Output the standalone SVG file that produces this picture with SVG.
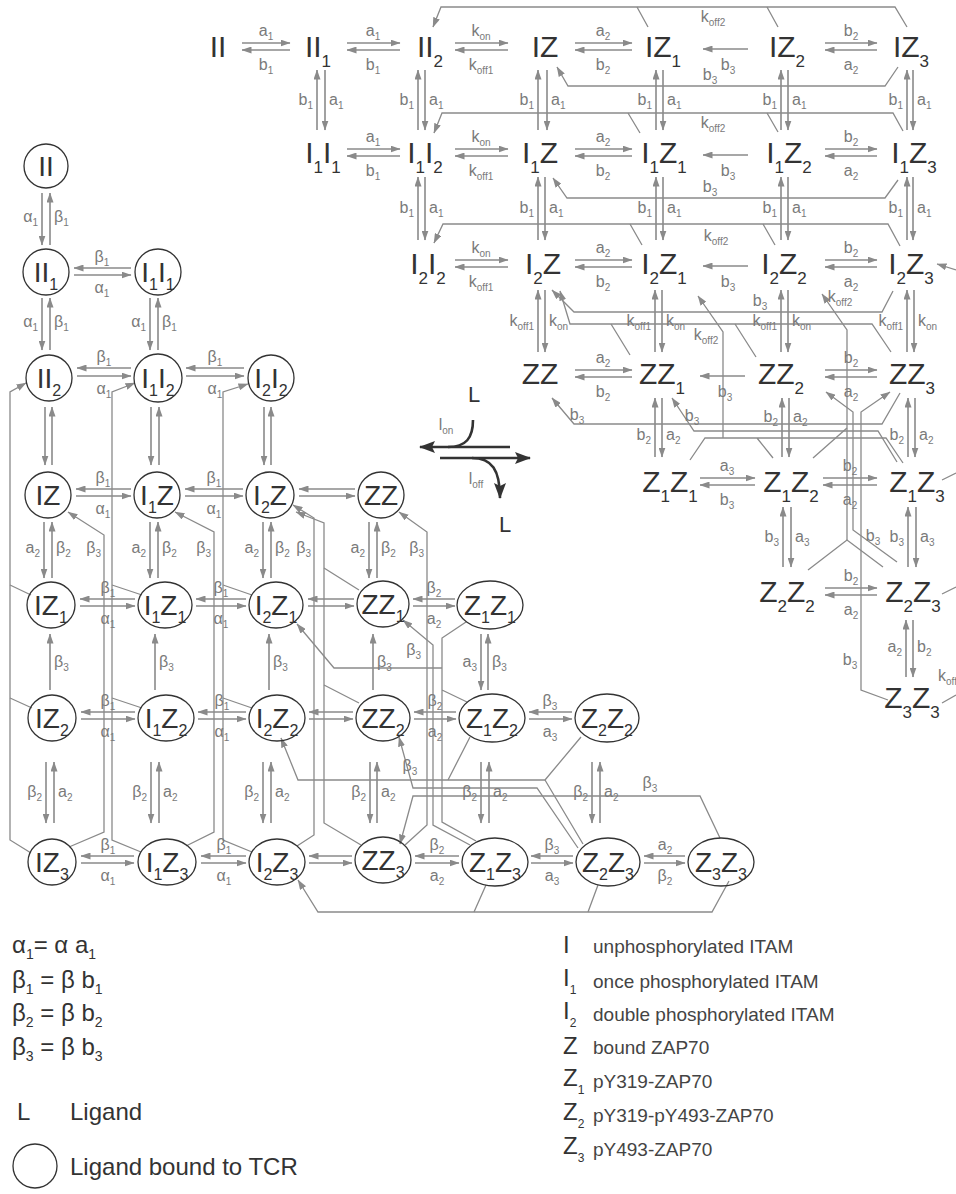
<svg xmlns="http://www.w3.org/2000/svg" width="956" height="1194" viewBox="0 0 956 1194">
<defs>
<style>
text{font-family:"Liberation Sans",Arial,sans-serif}
.n{font-size:30px;fill:#333;text-anchor:middle}
.m{font-size:28px}
.s{font-size:17px}
.m .s{font-size:16px}
.r{font-size:16px;fill:#7a7a7a;text-anchor:middle}
.le{text-anchor:end}
.ri{text-anchor:start}
.t{font-size:10px}
.e{stroke:#8a8a8a;stroke-width:1.6;fill:none;marker-end:url(#ah)}
.w{stroke:#8a8a8a;stroke-width:1.3;fill:none}
.wa{marker-end:url(#ah)}
.c{fill:none;stroke:#333;stroke-width:1.3}
.d{stroke:#333;stroke-width:2.6;fill:none}
.da{marker-end:url(#big)}
.lg{font-size:24px;fill:#333}
.lt{font-size:19px;fill:#444}
.u{font-size:14px}
.v{font-size:12px}
</style>
<marker id="ah" viewBox="0 0 10 7" refX="9.5" refY="3.5" markerWidth="10" markerHeight="7" markerUnits="userSpaceOnUse" orient="auto"><path d="M0,0 L10,3.5 L0,7 z" fill="#8a8a8a"/></marker>
<marker id="big" viewBox="0 0 16 12" refX="15" refY="6" markerWidth="16" markerHeight="12" markerUnits="userSpaceOnUse" orient="auto"><path d="M0,0 L16,6 L0,12 L3,6 z" fill="#333"/></marker>
</defs>

<!-- ===== connectors ===== -->
<g id="connectors">
<!-- upper scheme: horizontal reaction pairs -->
<line class="e" x1="242" y1="43" x2="290" y2="43"/><line class="e" x1="290" y1="50" x2="242" y2="50"/>
<line class="e" x1="347" y1="43" x2="400" y2="43"/><line class="e" x1="400" y1="50" x2="347" y2="50"/>
<line class="e" x1="455" y1="43" x2="508" y2="43"/><line class="e" x1="508" y1="50" x2="455" y2="50"/>
<line class="e" x1="575" y1="43" x2="632" y2="43"/><line class="e" x1="632" y1="50" x2="575" y2="50"/>
<line class="e" x1="748" y1="49" x2="703" y2="49"/>
<line class="e" x1="825" y1="43" x2="877" y2="43"/><line class="e" x1="877" y1="50" x2="825" y2="50"/>

<line class="e" x1="347" y1="149" x2="400" y2="149"/><line class="e" x1="400" y1="156" x2="347" y2="156"/>
<line class="e" x1="455" y1="149" x2="508" y2="149"/><line class="e" x1="508" y1="156" x2="455" y2="156"/>
<line class="e" x1="575" y1="149" x2="632" y2="149"/><line class="e" x1="632" y1="156" x2="575" y2="156"/>
<line class="e" x1="748" y1="155" x2="703" y2="155"/>
<line class="e" x1="825" y1="149" x2="877" y2="149"/><line class="e" x1="877" y1="156" x2="825" y2="156"/>

<line class="e" x1="455" y1="260" x2="508" y2="260"/><line class="e" x1="508" y1="267" x2="455" y2="267"/>
<line class="e" x1="575" y1="260" x2="632" y2="260"/><line class="e" x1="632" y1="267" x2="575" y2="267"/>
<line class="e" x1="748" y1="266" x2="703" y2="266"/>
<line class="e" x1="825" y1="260" x2="877" y2="260"/><line class="e" x1="877" y1="267" x2="825" y2="267"/>

<line class="e" x1="575" y1="370" x2="632" y2="370"/><line class="e" x1="632" y1="377" x2="575" y2="377"/>
<line class="e" x1="745" y1="376" x2="700" y2="376"/>
<line class="e" x1="825" y1="370" x2="877" y2="370"/><line class="e" x1="877" y1="377" x2="825" y2="377"/>

<line class="e" x1="700" y1="478" x2="755" y2="478"/><line class="e" x1="755" y1="485" x2="700" y2="485"/>
<line class="e" x1="823" y1="478" x2="877" y2="478"/><line class="e" x1="877" y1="485" x2="823" y2="485"/>

<line class="e" x1="825" y1="588" x2="877" y2="588"/><line class="e" x1="877" y1="595" x2="825" y2="595"/>

<!-- upper scheme: vertical reaction pairs -->
<line class="e" x1="317" y1="130" x2="317" y2="70"/><line class="e" x1="325" y1="70" x2="325" y2="130"/>
<line class="e" x1="418" y1="130" x2="418" y2="70"/><line class="e" x1="425" y1="70" x2="425" y2="130"/>
<line class="e" x1="538" y1="130" x2="538" y2="70"/><line class="e" x1="547" y1="70" x2="547" y2="130"/>
<line class="e" x1="656" y1="130" x2="656" y2="70"/><line class="e" x1="663" y1="70" x2="663" y2="130"/>
<line class="e" x1="781" y1="130" x2="781" y2="70"/><line class="e" x1="788" y1="70" x2="788" y2="130"/>
<line class="e" x1="907" y1="130" x2="907" y2="70"/><line class="e" x1="913" y1="70" x2="913" y2="130"/>

<line class="e" x1="418" y1="240" x2="418" y2="177"/><line class="e" x1="425" y1="177" x2="425" y2="240"/>
<line class="e" x1="538" y1="240" x2="538" y2="177"/><line class="e" x1="545" y1="177" x2="545" y2="240"/>
<line class="e" x1="656" y1="240" x2="656" y2="177"/><line class="e" x1="663" y1="177" x2="663" y2="240"/>
<line class="e" x1="781" y1="240" x2="781" y2="177"/><line class="e" x1="788" y1="177" x2="788" y2="240"/>
<line class="e" x1="907" y1="240" x2="907" y2="177"/><line class="e" x1="913" y1="177" x2="913" y2="240"/>

<line class="e" x1="538" y1="352" x2="538" y2="290"/><line class="e" x1="545" y1="290" x2="545" y2="352"/>
<line class="e" x1="655" y1="352" x2="655" y2="290"/><line class="e" x1="662" y1="290" x2="662" y2="352"/>
<line class="e" x1="781" y1="352" x2="781" y2="290"/><line class="e" x1="788" y1="290" x2="788" y2="352"/>
<line class="e" x1="907" y1="352" x2="907" y2="290"/><line class="e" x1="914" y1="290" x2="914" y2="352"/>

<line class="e" x1="655" y1="457" x2="655" y2="398"/><line class="e" x1="662" y1="398" x2="662" y2="457"/>
<line class="e" x1="782" y1="457" x2="782" y2="398"/><line class="e" x1="789" y1="398" x2="789" y2="457"/>
<line class="e" x1="908" y1="457" x2="908" y2="398"/><line class="e" x1="915" y1="398" x2="915" y2="457"/>

<line class="e" x1="783" y1="567" x2="783" y2="507"/><line class="e" x1="791" y1="507" x2="791" y2="567"/>
<line class="e" x1="908" y1="567" x2="908" y2="507"/><line class="e" x1="916" y1="507" x2="916" y2="567"/>

<line class="e" x1="906" y1="677" x2="906" y2="620"/><line class="e" x1="913" y1="620" x2="913" y2="677"/>

<!-- upper scheme: long routed transitions -->
<path class="w wa" d="M907,27 L895,7 L441,7 L433,27"/>
<path class="w" d="M637,7 L648,27 M767,7 L778,27"/>
<path class="w wa" d="M898,67 L885,86 L568,86 L557,67"/>
<path class="w wa" d="M903,131 L893,113 L442,113 L434,133"/>
<path class="w" d="M628,113 L640,133 M767,113 L778,132"/>
<path class="w wa" d="M898,180 L885,198 L567,198 L553,178"/>
<path class="w wa" d="M900,246 L888,224 L443,224 L434,243"/>
<path class="w" d="M630,224 L642,245 M763,224 L775,245"/>
<path class="w wa" d="M893,291 L882,312 L574,312 L552,290"/>
<path class="w wa" d="M891,352 L872,324 L570,324 L560,291"/>
<path class="w" d="M611,324 L630,355 M735,324 L756,357"/>
<path class="w wa" d="M723,438 L723,332 L698,296"/>
<path class="w" d="M690,460 L705,438 L886,438 L903,463 M757,438 L773,458"/>
<path class="w wa" d="M900,393 L882,424 L574,424 L552,398"/>
<path class="w wa" d="M897,462 L878,431 L694,431 L672,398"/>
<path class="w wa" d="M847,540 L847,330 L822,294"/>
<path class="w" d="M808,570 L847,540 L883,567 M813,458 L847,428"/>
<path class="w wa" d="M897,562 L853,530 L853,412 L826,392"/>
<path class="w wa" d="M888,700 L861,690 L861,412 L890,392"/>
<path class="w wa" d="M956,270 L937,264"/>
<path class="w" d="M942,480 L956,473 M942,594 L956,587 M942,703 L956,695"/>

<!-- lower scheme: horizontal pairs -->
<line class="e" x1="131" y1="268" x2="74" y2="268"/><line class="e" x1="74" y1="275" x2="131" y2="275"/>
<line class="e" x1="131" y1="368" x2="77" y2="368"/><line class="e" x1="77" y1="376" x2="131" y2="376"/>
<line class="e" x1="244" y1="368" x2="186" y2="368"/><line class="e" x1="186" y1="376" x2="244" y2="376"/>

<line class="e" x1="131" y1="489" x2="76" y2="489"/><line class="e" x1="76" y1="496" x2="131" y2="496"/>
<line class="e" x1="243" y1="489" x2="185" y2="489"/><line class="e" x1="185" y1="496" x2="243" y2="496"/>
<line class="e" x1="355" y1="489" x2="299" y2="489"/><line class="e" x1="299" y1="496" x2="355" y2="496"/>

<line class="e" x1="135" y1="599" x2="80" y2="599"/><line class="e" x1="80" y1="606" x2="135" y2="606"/>
<line class="e" x1="246" y1="599" x2="196" y2="599"/><line class="e" x1="196" y1="606" x2="246" y2="606"/>
<line class="e" x1="354" y1="599" x2="308" y2="599"/><line class="e" x1="308" y1="606" x2="354" y2="606"/>
<line class="e" x1="455" y1="599" x2="413" y2="599"/><line class="e" x1="413" y1="606" x2="455" y2="606"/>

<line class="e" x1="135" y1="712" x2="81" y2="712"/><line class="e" x1="81" y1="719" x2="135" y2="719"/>
<line class="e" x1="246" y1="712" x2="198" y2="712"/><line class="e" x1="198" y1="719" x2="246" y2="719"/>
<line class="e" x1="353" y1="712" x2="309" y2="712"/><line class="e" x1="309" y1="719" x2="353" y2="719"/>
<line class="e" x1="456" y1="712" x2="414" y2="712"/><line class="e" x1="414" y1="719" x2="456" y2="719"/>
<line class="e" x1="572" y1="712" x2="529" y2="712"/><line class="e" x1="529" y1="719" x2="572" y2="719"/>

<line class="e" x1="134" y1="856" x2="81" y2="856"/><line class="e" x1="81" y1="863" x2="134" y2="863"/>
<line class="e" x1="246" y1="856" x2="201" y2="856"/><line class="e" x1="201" y1="863" x2="246" y2="863"/>
<line class="e" x1="352" y1="856" x2="309" y2="856"/><line class="e" x1="309" y1="863" x2="352" y2="863"/>
<line class="e" x1="459" y1="856" x2="415" y2="856"/><line class="e" x1="415" y1="863" x2="459" y2="863"/>
<line class="e" x1="573" y1="856" x2="531" y2="856"/><line class="e" x1="531" y1="863" x2="573" y2="863"/>
<line class="e" x1="685" y1="856" x2="644" y2="856"/><line class="e" x1="644" y1="863" x2="685" y2="863"/>

<!-- lower scheme: vertical pairs -->
<line class="e" x1="42" y1="193" x2="42" y2="245"/><line class="e" x1="50" y1="245" x2="50" y2="193"/>
<line class="e" x1="42" y1="298" x2="42" y2="350"/><line class="e" x1="50" y1="350" x2="50" y2="298"/>
<line class="e" x1="150" y1="298" x2="150" y2="350"/><line class="e" x1="158" y1="350" x2="158" y2="298"/>
<line class="e" x1="45" y1="407" x2="45" y2="465"/><line class="e" x1="52" y1="465" x2="52" y2="407"/>
<line class="e" x1="151" y1="407" x2="151" y2="465"/><line class="e" x1="159" y1="465" x2="159" y2="407"/>
<line class="e" x1="264" y1="407" x2="264" y2="465"/><line class="e" x1="271" y1="465" x2="271" y2="407"/>

<line class="e" x1="44" y1="522" x2="44" y2="578"/><line class="e" x1="52" y1="578" x2="52" y2="522"/>
<line class="e" x1="150" y1="522" x2="150" y2="578"/><line class="e" x1="158" y1="578" x2="158" y2="522"/>
<line class="e" x1="263" y1="522" x2="263" y2="578"/><line class="e" x1="271" y1="578" x2="271" y2="522"/>
<line class="e" x1="369" y1="522" x2="369" y2="578"/><line class="e" x1="377" y1="578" x2="377" y2="522"/>

<line class="e" x1="50" y1="690" x2="50" y2="634"/>
<line class="e" x1="155" y1="690" x2="155" y2="634"/>
<line class="e" x1="269" y1="690" x2="269" y2="634"/>
<line class="e" x1="373" y1="690" x2="373" y2="634"/>
<line class="e" x1="481" y1="634" x2="481" y2="690"/><line class="e" x1="488" y1="690" x2="488" y2="634"/>

<line class="e" x1="46" y1="762" x2="46" y2="823"/><line class="e" x1="54" y1="823" x2="54" y2="762"/>
<line class="e" x1="151" y1="762" x2="151" y2="823"/><line class="e" x1="159" y1="823" x2="159" y2="762"/>
<line class="e" x1="263" y1="762" x2="263" y2="823"/><line class="e" x1="271" y1="823" x2="271" y2="762"/>
<line class="e" x1="370" y1="762" x2="370" y2="823"/><line class="e" x1="377" y1="823" x2="377" y2="762"/>
<line class="e" x1="481" y1="762" x2="481" y2="823"/><line class="e" x1="489" y1="823" x2="489" y2="762"/>
<line class="e" x1="592" y1="762" x2="592" y2="823"/><line class="e" x1="600" y1="823" x2="600" y2="762"/>

<!-- lower scheme: long routed transitions -->
<path class="w wa" d="M31,853 L10,840 L10,392 L26,383"/>
<path class="w" d="M10,585 L31,595 M10,698 L32,708"/>
<path class="w wa" d="M141,852 L112,840 L112,392 L135,383"/>
<path class="w" d="M112,585 L142,595 M112,698 L142,708"/>
<path class="w wa" d="M252,852 L223,840 L223,392 L248,384"/>
<path class="w" d="M223,585 L252,595 M223,698 L252,708"/>
<path class="w wa" d="M69,847 L104,832 L104,535 L68,512"/>
<path class="w wa" d="M186,846 L214,832 L214,532 L175,512"/>
<path class="w wa" d="M297,846 L314,835 L314,518 L293,505"/>
<path class="w wa" d="M361,845 L324,823 L324,523 L296,512"/>
<path class="w" d="M324,568 L359,590 M324,685 L359,703"/>
<path class="w wa" d="M405,845 L427,825 L427,532 L399,512"/>
<path class="w wa" d="M470,845 L433,825 L433,645 L403,620"/>
<path class="w" d="M466,622 L442,638 L442,822 L476,841 M442,690 L467,702"/>
<path class="w wa" d="M442,668 L334,668 L297,624"/>
<path class="w wa" d="M581,737 L545,780 L298,780 L281,738"/>
<path class="w" d="M448,780 L470,737 M545,780 L583,844"/>
<path class="w wa" d="M578,848 L537,788 L413,788 L399,737"/>
<path class="w wa" d="M720,838 L700,796 L413,796 L400,844"/>
<path class="w wa" d="M729,881 L712,912 L318,912 L298,880"/>
<path class="w" d="M474,912 L486,885 M588,912 L598,885"/>

<!-- ligand binding / unbinding -->
<path class="d da" d="M510,447 L420,447"/>
<path class="d" d="M473,420 C473,438 466,447 448,447"/>
<path class="d da" d="M440,458 L530,458"/>
<path class="d da" d="M472,458 C492,458 500,470 500,498"/>
</g>

<!-- ===== rate constants ===== -->
<g id="rates">
<!-- upper horizontal -->
<text class="r" x="266" y="36">a<tspan class="t" dy="4">1</tspan></text><text class="r" x="266" y="70">b<tspan class="t" dy="4">1</tspan></text>
<text class="r" x="373" y="36">a<tspan class="t" dy="4">1</tspan></text><text class="r" x="373" y="70">b<tspan class="t" dy="4">1</tspan></text>
<text class="r" x="481" y="36">k<tspan class="t" dy="4">on</tspan></text><text class="r" x="481" y="70">k<tspan class="t" dy="4">off1</tspan></text>
<text class="r" x="603" y="36">a<tspan class="t" dy="4">2</tspan></text><text class="r" x="603" y="70">b<tspan class="t" dy="4">2</tspan></text>
<text class="r" x="728" y="70">b<tspan class="t" dy="4">3</tspan></text>
<text class="r" x="851" y="36">b<tspan class="t" dy="4">2</tspan></text><text class="r" x="851" y="70">a<tspan class="t" dy="4">2</tspan></text>

<text class="r" x="373" y="142">a<tspan class="t" dy="4">1</tspan></text><text class="r" x="373" y="176">b<tspan class="t" dy="4">1</tspan></text>
<text class="r" x="481" y="142">k<tspan class="t" dy="4">on</tspan></text><text class="r" x="481" y="176">k<tspan class="t" dy="4">off1</tspan></text>
<text class="r" x="603" y="142">a<tspan class="t" dy="4">2</tspan></text><text class="r" x="603" y="176">b<tspan class="t" dy="4">2</tspan></text>
<text class="r" x="728" y="176">b<tspan class="t" dy="4">3</tspan></text>
<text class="r" x="851" y="142">b<tspan class="t" dy="4">2</tspan></text><text class="r" x="851" y="176">a<tspan class="t" dy="4">2</tspan></text>

<text class="r" x="481" y="253">k<tspan class="t" dy="4">on</tspan></text><text class="r" x="481" y="287">k<tspan class="t" dy="4">off1</tspan></text>
<text class="r" x="603" y="253">a<tspan class="t" dy="4">2</tspan></text><text class="r" x="603" y="287">b<tspan class="t" dy="4">2</tspan></text>
<text class="r" x="728" y="287">b<tspan class="t" dy="4">3</tspan></text>
<text class="r" x="851" y="253">b<tspan class="t" dy="4">2</tspan></text><text class="r" x="851" y="287">a<tspan class="t" dy="4">2</tspan></text>

<text class="r" x="603" y="363">a<tspan class="t" dy="4">2</tspan></text><text class="r" x="603" y="397">b<tspan class="t" dy="4">2</tspan></text>
<text class="r" x="725" y="397">b<tspan class="t" dy="4">3</tspan></text>
<text class="r" x="851" y="363">b<tspan class="t" dy="4">2</tspan></text><text class="r" x="851" y="397">a<tspan class="t" dy="4">2</tspan></text>

<text class="r" x="727" y="471">a<tspan class="t" dy="4">3</tspan></text><text class="r" x="727" y="505">b<tspan class="t" dy="4">3</tspan></text>
<text class="r" x="850" y="471">b<tspan class="t" dy="4">2</tspan></text><text class="r" x="850" y="505">a<tspan class="t" dy="4">2</tspan></text>
<text class="r" x="851" y="581">b<tspan class="t" dy="4">2</tspan></text><text class="r" x="851" y="615">a<tspan class="t" dy="4">2</tspan></text>

<!-- upper vertical -->
<text class="r le" x="313" y="105">b<tspan class="t" dy="4">1</tspan></text><text class="r ri" x="329" y="105">a<tspan class="t" dy="4">1</tspan></text>
<text class="r le" x="414" y="105">b<tspan class="t" dy="4">1</tspan></text><text class="r ri" x="429" y="105">a<tspan class="t" dy="4">1</tspan></text>
<text class="r le" x="534" y="105">b<tspan class="t" dy="4">1</tspan></text><text class="r ri" x="551" y="105">a<tspan class="t" dy="4">1</tspan></text>
<text class="r le" x="652" y="105">b<tspan class="t" dy="4">1</tspan></text><text class="r ri" x="667" y="105">a<tspan class="t" dy="4">1</tspan></text>
<text class="r le" x="777" y="105">b<tspan class="t" dy="4">1</tspan></text><text class="r ri" x="792" y="105">a<tspan class="t" dy="4">1</tspan></text>
<text class="r le" x="903" y="105">b<tspan class="t" dy="4">1</tspan></text><text class="r ri" x="917" y="105">a<tspan class="t" dy="4">1</tspan></text>

<text class="r le" x="414" y="213">b<tspan class="t" dy="4">1</tspan></text><text class="r ri" x="429" y="213">a<tspan class="t" dy="4">1</tspan></text>
<text class="r le" x="534" y="213">b<tspan class="t" dy="4">1</tspan></text><text class="r ri" x="549" y="213">a<tspan class="t" dy="4">1</tspan></text>
<text class="r le" x="652" y="213">b<tspan class="t" dy="4">1</tspan></text><text class="r ri" x="667" y="213">a<tspan class="t" dy="4">1</tspan></text>
<text class="r le" x="777" y="213">b<tspan class="t" dy="4">1</tspan></text><text class="r ri" x="792" y="213">a<tspan class="t" dy="4">1</tspan></text>
<text class="r le" x="903" y="213">b<tspan class="t" dy="4">1</tspan></text><text class="r ri" x="917" y="213">a<tspan class="t" dy="4">1</tspan></text>

<text class="r le" x="534" y="326">k<tspan class="t" dy="4">off1</tspan></text><text class="r ri" x="549" y="326">k<tspan class="t" dy="4">on</tspan></text>
<text class="r le" x="651" y="326">k<tspan class="t" dy="4">off1</tspan></text><text class="r ri" x="666" y="326">k<tspan class="t" dy="4">on</tspan></text>
<text class="r le" x="777" y="326">k<tspan class="t" dy="4">off1</tspan></text><text class="r ri" x="792" y="326">k<tspan class="t" dy="4">on</tspan></text>
<text class="r le" x="903" y="326">k<tspan class="t" dy="4">off1</tspan></text><text class="r ri" x="918" y="326">k<tspan class="t" dy="4">on</tspan></text>

<text class="r le" x="651" y="440">b<tspan class="t" dy="4">2</tspan></text><text class="r ri" x="666" y="440">a<tspan class="t" dy="4">2</tspan></text>
<text class="r le" x="778" y="422">b<tspan class="t" dy="4">2</tspan></text><text class="r ri" x="793" y="422">a<tspan class="t" dy="4">2</tspan></text>
<text class="r le" x="904" y="440">b<tspan class="t" dy="4">2</tspan></text><text class="r ri" x="919" y="440">a<tspan class="t" dy="4">2</tspan></text>

<text class="r le" x="779" y="542">b<tspan class="t" dy="4">3</tspan></text><text class="r ri" x="795" y="542">a<tspan class="t" dy="4">3</tspan></text>
<text class="r le" x="904" y="542">b<tspan class="t" dy="4">3</tspan></text><text class="r ri" x="920" y="542">a<tspan class="t" dy="4">3</tspan></text>
<text class="r le" x="902" y="652">a<tspan class="t" dy="4">2</tspan></text><text class="r ri" x="917" y="652">b<tspan class="t" dy="4">2</tspan></text>

<!-- upper routed -->
<text class="r" x="713" y="22">k<tspan class="t" dy="4">off2</tspan></text>
<text class="r" x="710" y="80">b<tspan class="t" dy="4">3</tspan></text>
<text class="r" x="713" y="128">k<tspan class="t" dy="4">off2</tspan></text>
<text class="r" x="710" y="192">b<tspan class="t" dy="4">3</tspan></text>
<text class="r" x="716" y="241">k<tspan class="t" dy="4">off2</tspan></text>
<text class="r" x="760" y="306">b<tspan class="t" dy="4">3</tspan></text>
<text class="r" x="840" y="302">k<tspan class="t" dy="4">off2</tspan></text>
<text class="r" x="706" y="340">k<tspan class="t" dy="4">off2</tspan></text>
<text class="r" x="577" y="420">b<tspan class="t" dy="4">3</tspan></text>
<text class="r" x="692" y="421">b<tspan class="t" dy="4">3</tspan></text>
<text class="r" x="873" y="541">b<tspan class="t" dy="4">3</tspan></text>
<text class="r" x="850" y="665">b<tspan class="t" dy="4">3</tspan></text>
<text class="r ri" x="938" y="681">k<tspan class="t" dy="4">off</tspan></text>

<!-- lower horizontal -->
<text class="r" x="102" y="262">β<tspan class="t" dy="4">1</tspan></text><text class="r" x="102" y="293">α<tspan class="t" dy="4">1</tspan></text>
<text class="r" x="104" y="362">β<tspan class="t" dy="4">1</tspan></text><text class="r" x="104" y="394">α<tspan class="t" dy="4">1</tspan></text>
<text class="r" x="215" y="362">β<tspan class="t" dy="4">1</tspan></text><text class="r" x="215" y="394">α<tspan class="t" dy="4">1</tspan></text>
<text class="r" x="103" y="483">β<tspan class="t" dy="4">1</tspan></text><text class="r" x="103" y="514">α<tspan class="t" dy="4">1</tspan></text>
<text class="r" x="214" y="483">β<tspan class="t" dy="4">1</tspan></text><text class="r" x="214" y="514">α<tspan class="t" dy="4">1</tspan></text>
<text class="r" x="108" y="593">β<tspan class="t" dy="4">1</tspan></text><text class="r" x="108" y="624">α<tspan class="t" dy="4">1</tspan></text>
<text class="r" x="221" y="593">β<tspan class="t" dy="4">1</tspan></text><text class="r" x="221" y="624">α<tspan class="t" dy="4">1</tspan></text>
<text class="r" x="434" y="593">β<tspan class="t" dy="4">2</tspan></text><text class="r" x="434" y="624">a<tspan class="t" dy="4">2</tspan></text>
<text class="r" x="108" y="706">β<tspan class="t" dy="4">1</tspan></text><text class="r" x="108" y="737">α<tspan class="t" dy="4">1</tspan></text>
<text class="r" x="222" y="706">β<tspan class="t" dy="4">1</tspan></text><text class="r" x="222" y="737">α<tspan class="t" dy="4">1</tspan></text>
<text class="r" x="435" y="706">β<tspan class="t" dy="4">2</tspan></text><text class="r" x="435" y="737">a<tspan class="t" dy="4">2</tspan></text>
<text class="r" x="550" y="706">β<tspan class="t" dy="4">3</tspan></text><text class="r" x="550" y="737">a<tspan class="t" dy="4">3</tspan></text>
<text class="r" x="108" y="850">β<tspan class="t" dy="4">1</tspan></text><text class="r" x="108" y="881">α<tspan class="t" dy="4">1</tspan></text>
<text class="r" x="224" y="850">β<tspan class="t" dy="4">1</tspan></text><text class="r" x="224" y="881">α<tspan class="t" dy="4">1</tspan></text>
<text class="r" x="437" y="850">β<tspan class="t" dy="4">2</tspan></text><text class="r" x="437" y="881">a<tspan class="t" dy="4">2</tspan></text>
<text class="r" x="552" y="850">β<tspan class="t" dy="4">3</tspan></text><text class="r" x="552" y="881">a<tspan class="t" dy="4">3</tspan></text>
<text class="r" x="665" y="850">a<tspan class="t" dy="4">2</tspan></text><text class="r" x="665" y="881">β<tspan class="t" dy="4">2</tspan></text>

<!-- lower vertical -->
<text class="r le" x="38" y="222">α<tspan class="t" dy="4">1</tspan></text><text class="r ri" x="54" y="222">β<tspan class="t" dy="4">1</tspan></text>
<text class="r le" x="38" y="327">α<tspan class="t" dy="4">1</tspan></text><text class="r ri" x="54" y="327">β<tspan class="t" dy="4">1</tspan></text>
<text class="r le" x="146" y="327">α<tspan class="t" dy="4">1</tspan></text><text class="r ri" x="162" y="327">β<tspan class="t" dy="4">1</tspan></text>
<text class="r le" x="40" y="553">a<tspan class="t" dy="4">2</tspan></text><text class="r ri" x="56" y="553">β<tspan class="t" dy="4">2</tspan></text>
<text class="r le" x="146" y="553">a<tspan class="t" dy="4">2</tspan></text><text class="r ri" x="162" y="553">β<tspan class="t" dy="4">2</tspan></text>
<text class="r le" x="259" y="553">a<tspan class="t" dy="4">2</tspan></text><text class="r ri" x="275" y="553">β<tspan class="t" dy="4">2</tspan></text>
<text class="r le" x="365" y="553">a<tspan class="t" dy="4">2</tspan></text><text class="r ri" x="381" y="553">β<tspan class="t" dy="4">2</tspan></text>
<text class="r ri" x="54" y="667">β<tspan class="t" dy="4">3</tspan></text>
<text class="r ri" x="159" y="667">β<tspan class="t" dy="4">3</tspan></text>
<text class="r ri" x="273" y="667">β<tspan class="t" dy="4">3</tspan></text>
<text class="r ri" x="377" y="667">β<tspan class="t" dy="4">3</tspan></text>
<text class="r le" x="477" y="667">a<tspan class="t" dy="4">3</tspan></text><text class="r ri" x="492" y="667">β<tspan class="t" dy="4">3</tspan></text>
<text class="r le" x="42" y="797">β<tspan class="t" dy="4">2</tspan></text><text class="r ri" x="58" y="797">a<tspan class="t" dy="4">2</tspan></text>
<text class="r le" x="147" y="797">β<tspan class="t" dy="4">2</tspan></text><text class="r ri" x="163" y="797">a<tspan class="t" dy="4">2</tspan></text>
<text class="r le" x="259" y="797">β<tspan class="t" dy="4">2</tspan></text><text class="r ri" x="275" y="797">a<tspan class="t" dy="4">2</tspan></text>
<text class="r le" x="366" y="797">β<tspan class="t" dy="4">2</tspan></text><text class="r ri" x="381" y="797">a<tspan class="t" dy="4">2</tspan></text>
<text class="r le" x="477" y="797">β<tspan class="t" dy="4">2</tspan></text><text class="r ri" x="493" y="797">a<tspan class="t" dy="4">2</tspan></text>
<text class="r le" x="588" y="797">β<tspan class="t" dy="4">2</tspan></text><text class="r ri" x="604" y="797">a<tspan class="t" dy="4">2</tspan></text>

<!-- lower routed -->
<text class="r le" x="101" y="553">β<tspan class="t" dy="4">3</tspan></text>
<text class="r le" x="211" y="553">β<tspan class="t" dy="4">3</tspan></text>
<text class="r le" x="311" y="553">β<tspan class="t" dy="4">3</tspan></text>
<text class="r le" x="424" y="553">β<tspan class="t" dy="4">3</tspan></text>
<text class="r le" x="421" y="655">β<tspan class="t" dy="4">3</tspan></text>
<text class="r" x="410" y="771">β<tspan class="t" dy="4">3</tspan></text>
<text class="r" x="650" y="788">β<tspan class="t" dy="4">3</tspan></text>

<!-- ligand rates -->
<text class="r" x="446" y="430">l<tspan class="t" dy="4">on</tspan></text>
<text class="r" x="476" y="484">l<tspan class="t" dy="4">off</tspan></text>
</g>

<!-- ===== upper scheme states (free receptor) ===== -->
<g id="u-II"><text class="n" x="218" y="57">II</text></g>
<g id="u-II1"><text class="n" x="318" y="57">II<tspan class="s" dy="10">1</tspan></text></g>
<g id="u-II2"><text class="n" x="430" y="57">II<tspan class="s" dy="10">2</tspan></text></g>
<g id="u-IZ"><text class="n" x="545" y="57">IZ</text></g>
<g id="u-IZ1"><text class="n" x="663" y="57">IZ<tspan class="s" dy="10">1</tspan></text></g>
<g id="u-IZ2"><text class="n" x="787" y="57">IZ<tspan class="s" dy="10">2</tspan></text></g>
<g id="u-IZ3"><text class="n" x="911" y="57">IZ<tspan class="s" dy="10">3</tspan></text></g>

<g id="u-I1I1"><text class="n" x="323" y="163">I<tspan class="s" dy="10">1</tspan><tspan dy="-10">I</tspan><tspan class="s" dy="10">1</tspan></text></g>
<g id="u-I1I2"><text class="n" x="425" y="163">I<tspan class="s" dy="10">1</tspan><tspan dy="-10">I</tspan><tspan class="s" dy="10">2</tspan></text></g>
<g id="u-I1Z"><text class="n" x="540" y="163">I<tspan class="s" dy="10">1</tspan><tspan dy="-10">Z</tspan></text></g>
<g id="u-I1Z1"><text class="n" x="664" y="163">I<tspan class="s" dy="10">1</tspan><tspan dy="-10">Z</tspan><tspan class="s" dy="10">1</tspan></text></g>
<g id="u-I1Z2"><text class="n" x="789" y="163">I<tspan class="s" dy="10">1</tspan><tspan dy="-10">Z</tspan><tspan class="s" dy="10">2</tspan></text></g>
<g id="u-I1Z3"><text class="n" x="914" y="163">I<tspan class="s" dy="10">1</tspan><tspan dy="-10">Z</tspan><tspan class="s" dy="10">3</tspan></text></g>

<g id="u-I2I2"><text class="n" x="428" y="274">I<tspan class="s" dy="10">2</tspan><tspan dy="-10">I</tspan><tspan class="s" dy="10">2</tspan></text></g>
<g id="u-I2Z"><text class="n" x="543" y="274">I<tspan class="s" dy="10">2</tspan><tspan dy="-10">Z</tspan></text></g>
<g id="u-I2Z1"><text class="n" x="664" y="274">I<tspan class="s" dy="10">2</tspan><tspan dy="-10">Z</tspan><tspan class="s" dy="10">1</tspan></text></g>
<g id="u-I2Z2"><text class="n" x="784" y="274">I<tspan class="s" dy="10">2</tspan><tspan dy="-10">Z</tspan><tspan class="s" dy="10">2</tspan></text></g>
<g id="u-I2Z3"><text class="n" x="911" y="274">I<tspan class="s" dy="10">2</tspan><tspan dy="-10">Z</tspan><tspan class="s" dy="10">3</tspan></text></g>

<g id="u-ZZ"><text class="n" x="540" y="384">ZZ</text></g>
<g id="u-ZZ1"><text class="n" x="662" y="384">ZZ<tspan class="s" dy="10">1</tspan></text></g>
<g id="u-ZZ2"><text class="n" x="781" y="384">ZZ<tspan class="s" dy="10">2</tspan></text></g>
<g id="u-ZZ3"><text class="n" x="912" y="384">ZZ<tspan class="s" dy="10">3</tspan></text></g>

<g id="u-Z1Z1"><text class="n" x="670" y="492">Z<tspan class="s" dy="10">1</tspan><tspan dy="-10">Z</tspan><tspan class="s" dy="10">1</tspan></text></g>
<g id="u-Z1Z2"><text class="n" x="791" y="492">Z<tspan class="s" dy="10">1</tspan><tspan dy="-10">Z</tspan><tspan class="s" dy="10">2</tspan></text></g>
<g id="u-Z1Z3"><text class="n" x="917" y="492">Z<tspan class="s" dy="10">1</tspan><tspan dy="-10">Z</tspan><tspan class="s" dy="10">3</tspan></text></g>
<g id="u-Z2Z2"><text class="n" x="787" y="602">Z<tspan class="s" dy="10">2</tspan><tspan dy="-10">Z</tspan><tspan class="s" dy="10">2</tspan></text></g>
<g id="u-Z2Z3"><text class="n" x="913" y="602">Z<tspan class="s" dy="10">2</tspan><tspan dy="-10">Z</tspan><tspan class="s" dy="10">3</tspan></text></g>
<g id="u-Z3Z3"><text class="n" x="912" y="708">Z<tspan class="s" dy="10">3</tspan><tspan dy="-10">Z</tspan><tspan class="s" dy="10">3</tspan></text></g>

<!-- ===== lower scheme states (ligand-bound receptor) ===== -->
<g id="b-II"><ellipse class="c" cx="46" cy="166" rx="22" ry="22"/><text class="n m" x="46" y="176">II</text></g>
<g id="b-II1"><ellipse class="c" cx="46" cy="272" rx="23" ry="23"/><text class="n m" x="46" y="282">II<tspan class="s" dy="8">1</tspan></text></g>
<g id="b-I1I1"><ellipse class="c" cx="158" cy="272" rx="23" ry="23"/><text class="n m" x="158" y="282">I<tspan class="s" dy="8">1</tspan><tspan dy="-8">I</tspan><tspan class="s" dy="8">1</tspan></text></g>
<g id="b-II2"><ellipse class="c" cx="49" cy="378" rx="23" ry="23"/><text class="n m" x="49" y="388">II<tspan class="s" dy="8">2</tspan></text></g>
<g id="b-I1I2"><ellipse class="c" cx="158" cy="378" rx="24" ry="24"/><text class="n m" x="158" y="388">I<tspan class="s" dy="8">1</tspan><tspan dy="-8">I</tspan><tspan class="s" dy="8">2</tspan></text></g>
<g id="b-I2I2"><ellipse class="c" cx="271" cy="378" rx="23" ry="23"/><text class="n m" x="271" y="388">I<tspan class="s" dy="8">2</tspan><tspan dy="-8">I</tspan><tspan class="s" dy="8">2</tspan></text></g>

<g id="b-IZ"><ellipse class="c" cx="48" cy="495" rx="23" ry="23"/><text class="n m" x="48" y="505">IZ</text></g>
<g id="b-I1Z"><ellipse class="c" cx="157" cy="495" rx="23" ry="23"/><text class="n m" x="157" y="505">I<tspan class="s" dy="8">1</tspan><tspan dy="-8">Z</tspan></text></g>
<g id="b-I2Z"><ellipse class="c" cx="270" cy="495" rx="24" ry="23"/><text class="n m" x="270" y="505">I<tspan class="s" dy="8">2</tspan><tspan dy="-8">Z</tspan></text></g>
<g id="b-ZZ"><ellipse class="c" cx="381" cy="495" rx="23" ry="23"/><text class="n m" x="381" y="505">ZZ</text></g>

<g id="b-IZ1"><ellipse class="c" cx="51" cy="605" rx="24" ry="23"/><text class="n m" x="51" y="615">IZ<tspan class="s" dy="8">1</tspan></text></g>
<g id="b-I1Z1"><ellipse class="c" cx="165" cy="605" rx="27" ry="23"/><text class="n m" x="165" y="615">I<tspan class="s" dy="8">1</tspan><tspan dy="-8">Z</tspan><tspan class="s" dy="8">1</tspan></text></g>
<g id="b-I2Z1"><ellipse class="c" cx="276" cy="605" rx="27" ry="23"/><text class="n m" x="276" y="615">I<tspan class="s" dy="8">2</tspan><tspan dy="-8">Z</tspan><tspan class="s" dy="8">1</tspan></text></g>
<g id="b-ZZ1"><ellipse class="c" cx="383" cy="604" rx="26" ry="23"/><text class="n m" x="383" y="614">ZZ<tspan class="s" dy="8">1</tspan></text></g>
<g id="b-Z1Z1"><ellipse class="c" cx="490" cy="605" rx="33" ry="24"/><text class="n m" x="490" y="615">Z<tspan class="s" dy="8">1</tspan><tspan dy="-8">Z</tspan><tspan class="s" dy="8">1</tspan></text></g>

<g id="b-IZ2"><ellipse class="c" cx="52" cy="718" rx="24" ry="23"/><text class="n m" x="52" y="728">IZ<tspan class="s" dy="8">2</tspan></text></g>
<g id="b-I1Z2"><ellipse class="c" cx="166" cy="718" rx="28" ry="23"/><text class="n m" x="166" y="728">I<tspan class="s" dy="8">1</tspan><tspan dy="-8">Z</tspan><tspan class="s" dy="8">2</tspan></text></g>
<g id="b-I2Z2"><ellipse class="c" cx="277" cy="718" rx="28" ry="23"/><text class="n m" x="277" y="728">I<tspan class="s" dy="8">2</tspan><tspan dy="-8">Z</tspan><tspan class="s" dy="8">2</tspan></text></g>
<g id="b-ZZ2"><ellipse class="c" cx="383" cy="718" rx="27" ry="23"/><text class="n m" x="383" y="728">ZZ<tspan class="s" dy="8">2</tspan></text></g>
<g id="b-Z1Z2"><ellipse class="c" cx="492" cy="718" rx="33" ry="24"/><text class="n m" x="492" y="728">Z<tspan class="s" dy="8">1</tspan><tspan dy="-8">Z</tspan><tspan class="s" dy="8">2</tspan></text></g>
<g id="b-Z2Z2"><ellipse class="c" cx="607" cy="718" rx="32" ry="24"/><text class="n m" x="607" y="728">Z<tspan class="s" dy="8">2</tspan><tspan dy="-8">Z</tspan><tspan class="s" dy="8">2</tspan></text></g>

<g id="b-IZ3"><ellipse class="c" cx="52" cy="862" rx="24" ry="23"/><text class="n m" x="52" y="872">IZ<tspan class="s" dy="8">3</tspan></text></g>
<g id="b-I1Z3"><ellipse class="c" cx="167" cy="862" rx="29" ry="23"/><text class="n m" x="167" y="872">I<tspan class="s" dy="8">1</tspan><tspan dy="-8">Z</tspan><tspan class="s" dy="8">3</tspan></text></g>
<g id="b-I2Z3"><ellipse class="c" cx="277" cy="862" rx="28" ry="23"/><text class="n m" x="277" y="872">I<tspan class="s" dy="8">2</tspan><tspan dy="-8">Z</tspan><tspan class="s" dy="8">3</tspan></text></g>
<g id="b-ZZ3"><ellipse class="c" cx="383" cy="860" rx="28" ry="23"/><text class="n m" x="383" y="870">ZZ<tspan class="s" dy="8">3</tspan></text></g>
<g id="b-Z1Z3"><ellipse class="c" cx="495" cy="862" rx="33" ry="24"/><text class="n m" x="495" y="872">Z<tspan class="s" dy="8">1</tspan><tspan dy="-8">Z</tspan><tspan class="s" dy="8">3</tspan></text></g>
<g id="b-Z2Z3"><ellipse class="c" cx="608" cy="862" rx="32" ry="24"/><text class="n m" x="608" y="872">Z<tspan class="s" dy="8">2</tspan><tspan dy="-8">Z</tspan><tspan class="s" dy="8">3</tspan></text></g>
<g id="b-Z3Z3"><ellipse class="c" cx="721" cy="862" rx="33" ry="24"/><text class="n m" x="721" y="872">Z<tspan class="s" dy="8">3</tspan><tspan dy="-8">Z</tspan><tspan class="s" dy="8">3</tspan></text></g>

<!-- ligand -->
<g id="ligand">
<text class="lg" x="468" y="402" style="font-size:22px">L</text>
<text class="lg" x="499" y="532" style="font-size:22px">L</text>
</g>

<!-- ===== legend ===== -->
<g id="legend">
<text class="lg" x="12" y="953">α<tspan class="u" dy="6">1</tspan><tspan dy="-6">= α a</tspan><tspan class="u" dy="6">1</tspan></text>
<text class="lg" x="12" y="988">β<tspan class="u" dy="6">1</tspan><tspan dy="-6"> = β b</tspan><tspan class="u" dy="6">1</tspan></text>
<text class="lg" x="12" y="1021">β<tspan class="u" dy="6">2</tspan><tspan dy="-6"> = β b</tspan><tspan class="u" dy="6">2</tspan></text>
<text class="lg" x="12" y="1055">β<tspan class="u" dy="6">3</tspan><tspan dy="-6"> = β b</tspan><tspan class="u" dy="6">3</tspan></text>
<text class="lg" x="17" y="1120">L</text>
<text class="lg" x="70" y="1120">Ligand</text>
<ellipse class="c" cx="35" cy="1166" rx="22" ry="22"/>
<text class="lg" x="70" y="1175">Ligand bound to TCR</text>

<text class="lg" x="563" y="953">I</text><text class="lt" x="593" y="953">unphosphorylated ITAM</text>
<text class="lg" x="563" y="986">I<tspan class="v" dy="8">1</tspan></text><text class="lt" x="593" y="988">once phosphorylated ITAM</text>
<text class="lg" x="563" y="1019">I<tspan class="v" dy="8">2</tspan></text><text class="lt" x="593" y="1021">double phosphorylated ITAM</text>
<text class="lg" x="563" y="1054">Z</text><text class="lt" x="593" y="1054">bound ZAP70</text>
<text class="lg" x="563" y="1086">Z<tspan class="v" dy="8">1</tspan></text><text class="lt" x="593" y="1088">pY319-ZAP70</text>
<text class="lg" x="563" y="1120">Z<tspan class="v" dy="8">2</tspan></text><text class="lt" x="593" y="1122">pY319-pY493-ZAP70</text>
<text class="lg" x="563" y="1154">Z<tspan class="v" dy="8">3</tspan></text><text class="lt" x="593" y="1156">pY493-ZAP70</text>
</g>
</svg>
